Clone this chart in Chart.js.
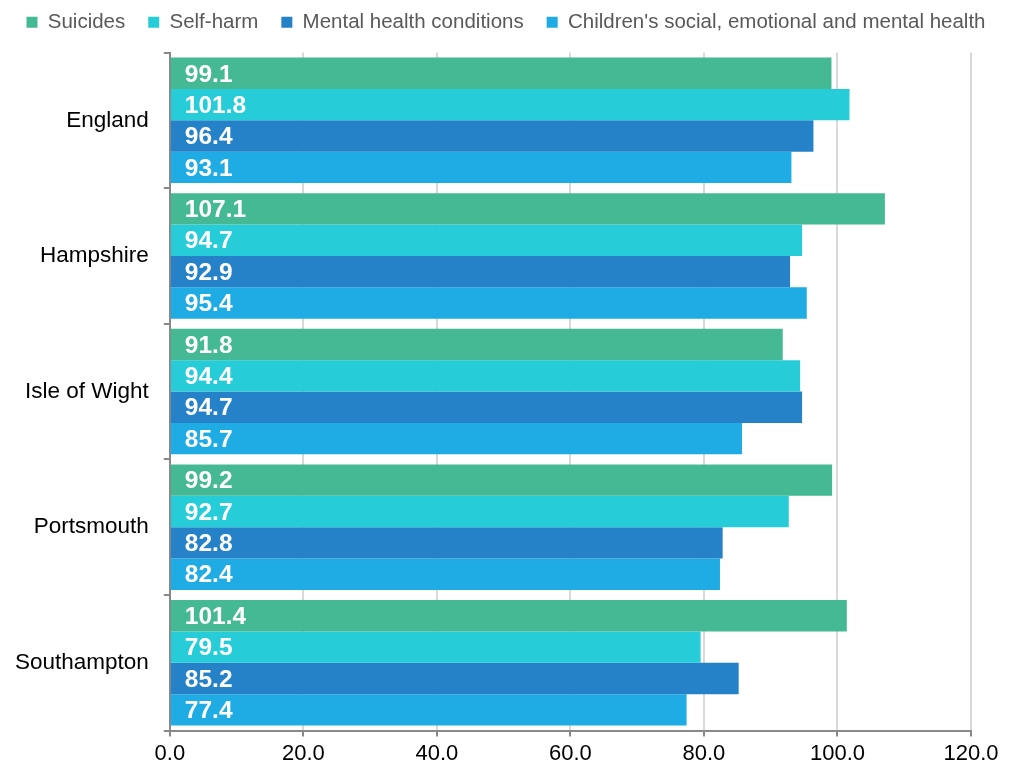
<!DOCTYPE html>
<html>
<head>
<meta charset="utf-8">
<script src="https://cdn.jsdelivr.net/npm/chart.js@4/dist/chart.umd.min.js"></script>
<style>
  html, body { margin: 0; padding: 0; background: #fff; }
  #wrap { width: 1012px; height: 779px; }
</style>
</head>
<body>
<div id="wrap"><canvas id="myChart"></canvas></div>
<script>
// data
const areas = ["England", "Hampshire", "Isle of Wight", "Portsmouth", "Southampton"];
const suicides = [99.1, 107.1, 91.8, 99.2, 101.4];
const selfHarm = [101.8, 94.7, 94.4, 92.7, 79.5];
const mentalHealth = [96.4, 92.9, 94.7, 82.8, 85.2];
const childrens = [93.1, 95.4, 85.7, 82.4, 77.4];
const xTicks = [0, 20, 40, 60, 80, 100, 120];

const green = "#45b994";
const cyan = "#26cdd8";
const darkBlue = "#2581c8";
const lightBlue = "#1fabe3";

Chart.defaults.font.family = "'Liberation Sans', Arial, sans-serif";

// write the value inside each bar, near the start
const barLabels = {
  id: "barLabels",
  afterDatasetsDraw(chart) {
    const ctx = chart.ctx;
    ctx.save();
    ctx.font = "bold 24.5px 'Liberation Sans', Arial, sans-serif";
    ctx.fillStyle = "#fff";
    ctx.textBaseline = "middle";
    ctx.textAlign = "left";
    chart.data.datasets.forEach((ds, i) => {
      chart.getDatasetMeta(i).data.forEach((bar, j) => {
        ctx.fillText(ds.data[j].toFixed(1), bar.base + 14, bar.y + 1.5);
      });
    });
    ctx.restore();
  },
};

// extra room between legend and plot
const legendGap = {
  id: "legendGap",
  beforeInit(chart) {
    const fit = chart.legend.fit;
    chart.legend.fit = function () {
      fit.bind(chart.legend)();
      this.height += 10;
    };
  },
};

new Chart("myChart", {
  type: "bar",
  data: {
    labels: areas,
    datasets: [
      { label: "Suicides", data: suicides, backgroundColor: green },
      { label: "Self-harm", data: selfHarm, backgroundColor: cyan },
      { label: "Mental health conditions", data: mentalHealth, backgroundColor: darkBlue },
      { label: "Children's social, emotional and mental health", data: childrens, backgroundColor: lightBlue },
    ],
  },
  options: {
    indexAxis: "y",
    responsive: true,
    maintainAspectRatio: false,
    animation: false,
    categoryPercentage: 0.925,
    barPercentage: 1,
    layout: { padding: { top: -11, right: 0, left: 0, bottom: 8 } },
    plugins: {
      legend: {
        position: "top",
        labels: {
          boxWidth: 11,
          boxHeight: 11,
          padding: 23,
          color: "#595959",
          font: { size: 20.5 },
        },
      },
      tooltip: { enabled: false },
    },
    scales: {
      x: {
        min: 0,
        max: 120,
        afterBuildTicks: (axis) => {
          axis.ticks = xTicks.map((v) => ({ value: v }));
        },
        afterFit: (axis) => {
          axis.paddingRight = 41;
        },
        grid: {
          color: "#d9d9d9",
          lineWidth: 2,
          tickColor: "#898989",
          tickLength: 6,
        },
        border: { color: "#898989", width: 2 },
        ticks: {
          color: "#000",
          font: { size: 22 },
          padding: 4,
          callback: (v) => v.toFixed(1),
        },
      },
      y: {
        grid: {
          drawOnChartArea: false,
          tickColor: "#898989",
          tickLength: 6,
          lineWidth: 2,
        },
        border: { color: "#898989", width: 2 },
        ticks: {
          color: "#000",
          font: { size: 22.5 },
          padding: 15,
        },
      },
    },
  },
  plugins: [barLabels, legendGap],
});
</script>
</body>
</html>
